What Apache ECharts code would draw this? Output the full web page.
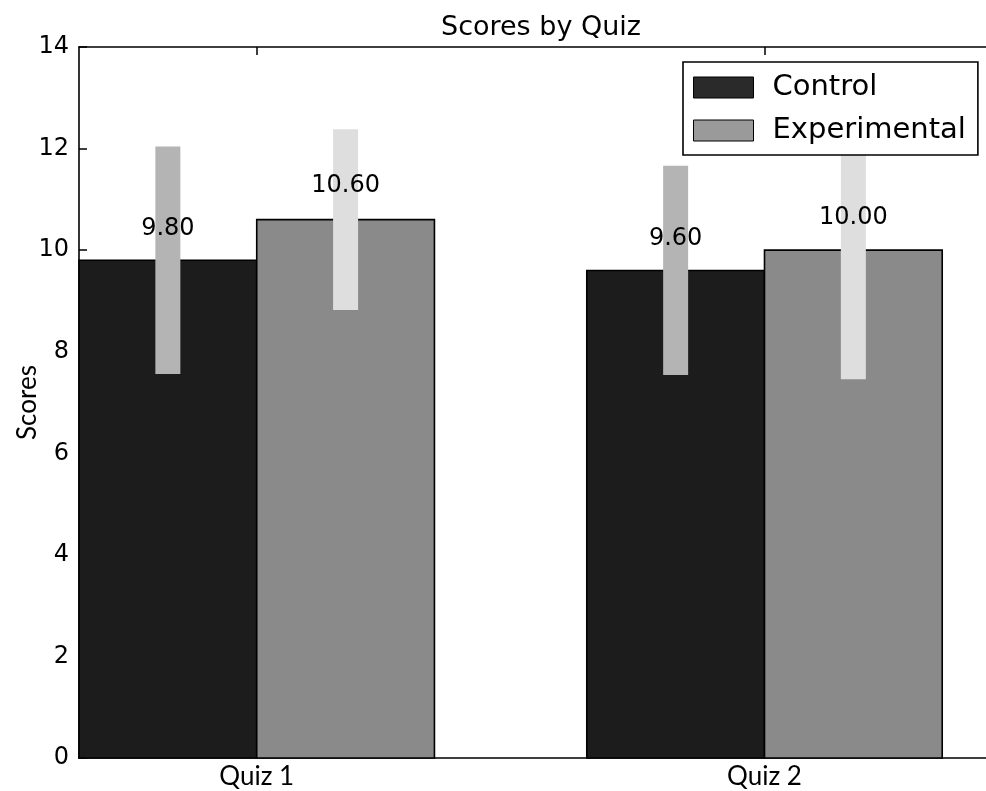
<!DOCTYPE html>
<html>
<head>
<meta charset="utf-8">
<title>Scores by Quiz</title>
<script src="https://cdn.jsdelivr.net/npm/echarts@6/dist/echarts.min.js"></script>
<style>
  html, body { margin: 0; padding: 0; background: #fff; }
  #chart { width: 986px; height: 791px; }
</style>
</head>
<body>
<div id="chart"></div>
<script>
// Quiz categories and group means with their spread
const quizzes = ['Quiz 1', 'Quiz 2'];
const controlScores = [9.8, 9.6];
const experimentalScores = [10.6, 10.0];
const controlErr = [2.24, 2.06];
const experimentalErr = [1.78, 2.54];
const yTicks = [0, 2, 4, 6, 8, 10, 12, 14];

// bar geometry in data units along x (group i starts at x = i)
const BAR_W = 0.35;
const tickPositions = quizzes.map((q, i) => i + BAR_W);

const chart = echarts.init(document.getElementById('chart'), null, { renderer: 'canvas' });

const sansFont = 'DejaVu Sans';
const humanistFont = 'Lato';

function barSeries(name, values, offset, color) {
  return {
    name: name,
    type: 'custom',
    z: 2,
    itemStyle: { color: color, borderColor: '#000', borderWidth: 1 },
    data: values.map((v, i) => [i + offset, v]),
    renderItem: function (params, api) {
      const x0 = api.value(0);
      const v = api.value(1);
      const p1 = api.coord([x0, v]);
      const p2 = api.coord([x0 + BAR_W, 0]);
      return {
        type: 'rect',
        shape: { x: p1[0], y: p1[1], width: p2[0] - p1[0], height: p2[1] - p1[1] },
        style: { fill: color, stroke: '#000', lineWidth: 1.6 }
      };
    }
  };
}

function errSeries(values, errs, offset, color) {
  return {
    type: 'custom',
    z: 3,
    silent: true,
    data: values.map((v, i) => [i + offset + BAR_W / 2, v, errs[i]]),
    renderItem: function (params, api) {
      const xc = api.value(0);
      const v = api.value(1);
      const e = api.value(2);
      const top = api.coord([xc, v + e]);
      const bot = api.coord([xc, v - e]);
      return {
        type: 'line',
        shape: { x1: top[0], y1: top[1], x2: bot[0], y2: bot[1] },
        style: { stroke: color, lineWidth: 25, lineCap: 'butt' }
      };
    }
  };
}

function labelSeries(values, offset) {
  return {
    type: 'custom',
    z: 4,
    silent: true,
    data: values.map((v, i) => [i + offset + BAR_W / 2, v]),
    renderItem: function (params, api) {
      const xc = api.value(0);
      const v = api.value(1);
      const p = api.coord([xc, v * 1.05]);
      return {
        type: 'text',
        x: p[0],
        y: p[1] + 5,
        style: {
          text: v.toFixed(2),
          font: '24px "' + sansFont + '"',
          fill: '#000',
          align: 'center',
          verticalAlign: 'bottom'
        }
      };
    }
  };
}

const option = {
  animation: false,
  backgroundColor: '#fff',
  title: {
    text: 'Scores by Quiz',
    left: 536,
    textAlign: 'center',
    top: 9,
    textStyle: { fontFamily: sansFont, fontSize: 27, fontWeight: 'normal', color: '#000' }
  },
  legend: {
    orient: 'vertical',
    left: 683,
    top: 62,
    padding: [11, 12, 10, 10],
    itemWidth: 60,
    itemHeight: 21,
    itemGap: 14,
    backgroundColor: '#fff',
    borderColor: '#000',
    borderWidth: 1.6,
    borderRadius: 0,
    icon: 'rect',
    data: [
      { name: 'Control', itemStyle: { color: '#2a2a2a', borderColor: '#000', borderWidth: 1 } },
      { name: 'Experimental', itemStyle: { color: '#9a9a9a', borderColor: '#000', borderWidth: 1 } }
    ],
    textStyle: { fontFamily: sansFont, fontSize: 29, lineHeight: 21, color: '#000', padding: [0, 0, 0, 14] }
  },
  grid: { left: 79, top: 47, width: 914, height: 711, containLabel: false, outerBoundsMode: 'none' },
  xAxis: [
    {
      type: 'value',
      min: 0,
      max: 1.8,
      position: 'bottom',
      axisLine: { show: true, lineStyle: { color: '#000', width: 1.6 } },
      axisTick: { show: true, inside: true, length: 8, customValues: tickPositions, lineStyle: { color: '#000', width: 1.5 } },
      axisLabel: {
        show: true,
        customValues: tickPositions,
        margin: 6,
        fontFamily: humanistFont,
        fontSize: 26,
        color: '#000',
        formatter: function (val) {
          return quizzes[Math.round(val - BAR_W)];
        }
      },
      splitLine: { show: false }
    },
    {
      type: 'value',
      min: 0,
      max: 1.8,
      position: 'top',
      axisLine: { show: true, lineStyle: { color: '#000', width: 1.6 } },
      axisTick: { show: true, inside: true, length: 8, customValues: tickPositions, lineStyle: { color: '#000', width: 1.5 } },
      axisLabel: { show: false },
      splitLine: { show: false }
    }
  ],
  yAxis: {
    type: 'value',
    min: yTicks[0],
    max: yTicks[yTicks.length - 1],
    interval: 2,
    name: 'Scores',
    nameLocation: 'middle',
    nameGap: 38,
    nameMoveOverlap: false,
    nameTextStyle: { fontFamily: humanistFont, fontSize: 26, color: '#000' },
    axisLine: { show: true, lineStyle: { color: '#000', width: 1.6 } },
    axisTick: { show: true, inside: true, length: 8, lineStyle: { color: '#000', width: 1.5 } },
    axisLabel: { margin: 10, fontFamily: sansFont, fontSize: 24, color: '#000' },
    splitLine: { show: false }
  },
  series: [
    barSeries('Control', controlScores, 0, '#1c1c1c'),
    barSeries('Experimental', experimentalScores, BAR_W, '#8a8a8a'),
    errSeries(controlScores, controlErr, 0, '#b4b4b4'),
    errSeries(experimentalScores, experimentalErr, BAR_W, '#dedede'),
    labelSeries(controlScores, 0),
    labelSeries(experimentalScores, BAR_W)
  ]
};

chart.setOption(option);
</script>
</body>
</html>
